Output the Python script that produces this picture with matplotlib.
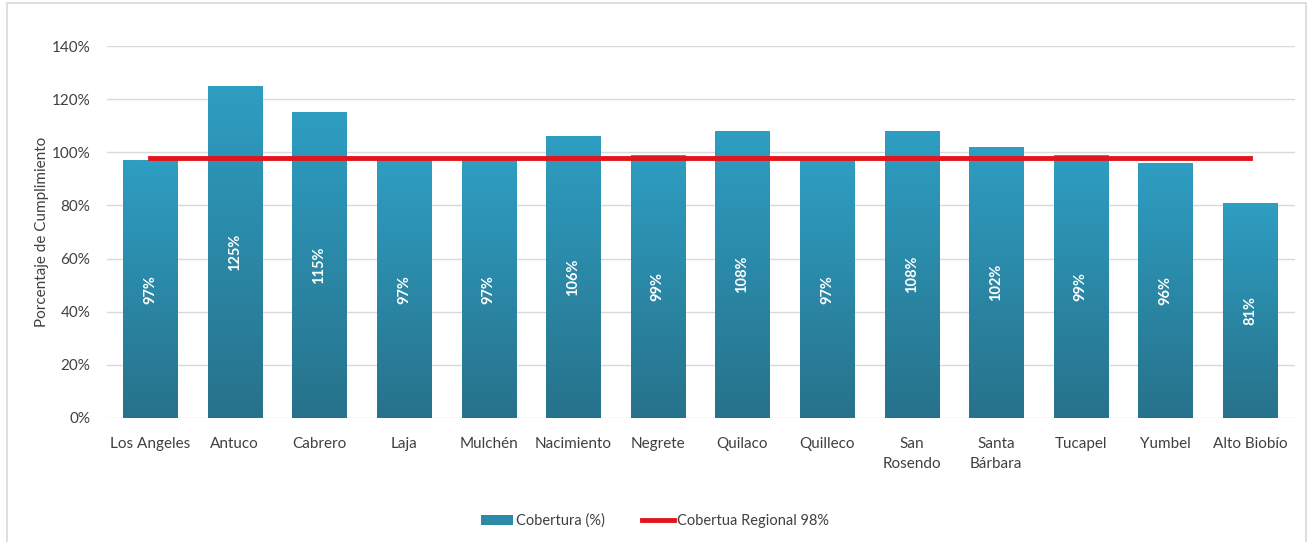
import matplotlib
matplotlib.use("Agg")
import matplotlib.pyplot as plt
import numpy as np
from matplotlib.colors import LinearSegmentedColormap
from matplotlib.patches import Rectangle
from matplotlib.ticker import PercentFormatter

plt.rcParams["font.family"] = ["Lato", "DejaVu Sans"]

comunas = ["Los Angeles", "Antuco", "Cabrero", "Laja", "Mulchén", "Nacimiento",
           "Negrete", "Quilaco", "Quilleco", "San\nRosendo", "Santa\nBárbara",
           "Tucapel", "Yumbel", "Alto Biobío"]
cobertura = [97, 125, 115, 97, 97, 106, 99, 108, 97, 108, 102, 99, 96, 81]
regional = 98

text_col = "#404040"
fig = plt.figure(figsize=(13.1, 5.42), dpi=100)
ax = fig.add_axes([0.0817, 0.2288, 0.9068, 0.6863])

x = np.arange(len(comunas))
bars = ax.bar(x, cobertura, width=0.64, color="#2b8aa8", zorder=2)

# vertical gradient inside each bar
cmap = LinearSegmentedColormap.from_list("g", ["#27728b", "#2e9ec2"])
grad = np.linspace(0, 1, 256).reshape(-1, 1)
for b in bars:
    x0, w, h = b.get_x(), b.get_width(), b.get_height()
    im = ax.imshow(grad, cmap=cmap, origin="lower", aspect="auto",
                   extent=[x0, x0 + w, 0, h], zorder=2)
    im.set_clip_path(b)
    ax.text(x0 + w / 2, h / 2, f"{h:.0f}%", rotation=90, ha="center",
            va="center", color="white", fontsize=10.5, fontweight="bold", zorder=4)

line, = ax.plot(x, [regional] * len(x), color="#e3141c", lw=3.5, zorder=3)

ax.set_xlim(-0.51, 13.53)
ax.set_ylim(0, 140)
ax.set_yticks(np.arange(0, 141, 20))
ax.yaxis.set_major_formatter(PercentFormatter(decimals=0))
ax.set_xticks(x)
ax.set_xticklabels(comunas, linespacing=1.55)
ax.grid(axis="y", color="#d9d9d9", lw=1, zorder=0)
for s in ax.spines.values():
    s.set_visible(False)
ax.tick_params(length=0, labelsize=11, colors=text_col)
ax.tick_params(axis="x", pad=14)
ax.tick_params(axis="y", pad=12)
ax.set_ylabel("Porcentaje de Cumplimiento", fontsize=11, color=text_col, labelpad=2)

fig.legend([bars, line], ["Cobertura (%)", f"Cobertua Regional {regional}%"],
           loc="center", bbox_to_anchor=(0.5, 0.039), ncol=2, frameon=False,
           fontsize=10.5, labelcolor=text_col, handlelength=2.2, handleheight=0.6,
           handletextpad=0.15, columnspacing=2.6)

fig.patches.append(Rectangle((7 / 1310, -0.01), 1299 / 1310, 1 - 3 / 542 + 0.01,
                             transform=fig.transFigure, fill=False,
                             edgecolor="#d9d9d9", lw=1.2))

fig.savefig("out.png", dpi=100)
